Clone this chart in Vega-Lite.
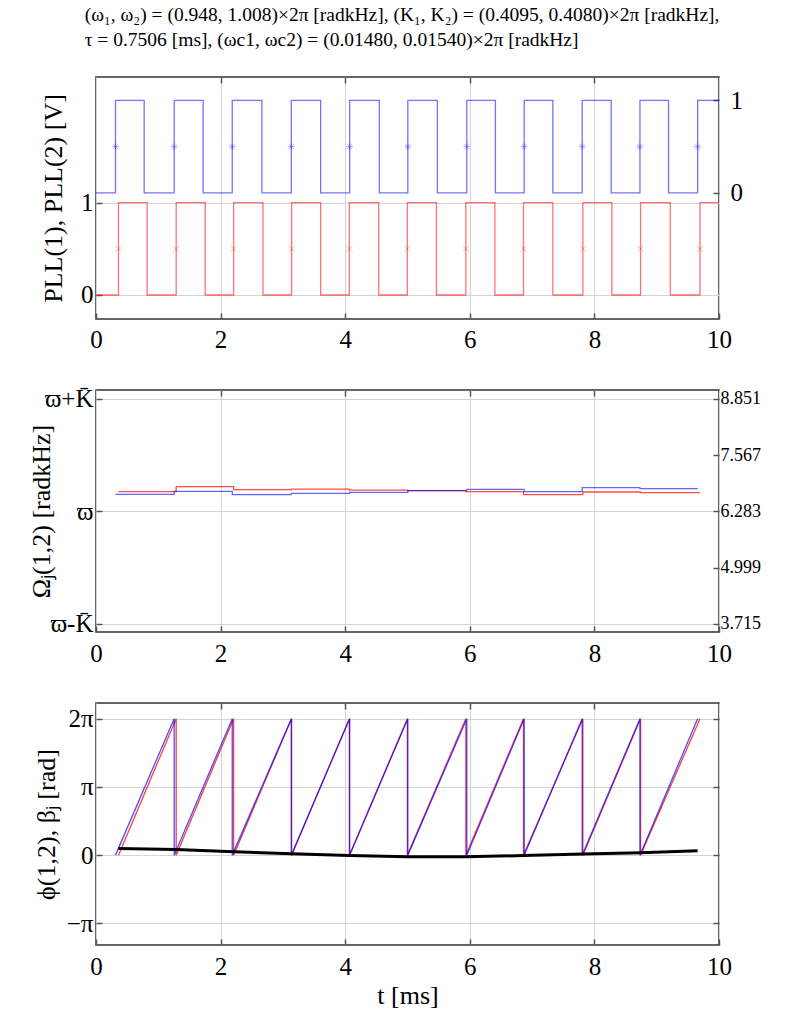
{
  "$schema": "https://vega.github.io/schema/vega-lite/v6.json",
  "background": "white",
  "padding": {"left": 27, "top": 5, "right": 5, "bottom": 5},
  "title": {
    "text": ["(ω₁, ω₂) = (0.948, 1.008)×2π [radkHz], (K₁, K₂) = (0.4095, 0.4080)×2π [radkHz],", "τ = 0.7506 [ms], (ωc1, ωc2) = (0.01480, 0.01540)×2π [radkHz]"],
    "anchor": "start", "font": "Liberation Serif, Times New Roman, serif", "fontSize": 19.5, "fontWeight": "normal", "lineHeight": 25, "offset": 25, "dx": 57, "color": "#000"
  },
  "datasets": {
    "sq": [
      {"pll": 1, "t": 0, "v": 0}, {"pll": 1, "t": 0.313, "v": 1}, {"pll": 1, "t": 0.773, "v": 0}, {"pll": 1, "t": 1.255, "v": 1}, {"pll": 1, "t": 1.72, "v": 0},
      {"pll": 1, "t": 2.187, "v": 1}, {"pll": 1, "t": 2.663, "v": 0}, {"pll": 1, "t": 3.135, "v": 1}, {"pll": 1, "t": 3.606, "v": 0}, {"pll": 1, "t": 4.072, "v": 1},
      {"pll": 1, "t": 4.548, "v": 0}, {"pll": 1, "t": 5.005, "v": 1}, {"pll": 1, "t": 5.48, "v": 0}, {"pll": 1, "t": 5.952, "v": 1}, {"pll": 1, "t": 6.411, "v": 0},
      {"pll": 1, "t": 6.873, "v": 1}, {"pll": 1, "t": 7.333, "v": 0}, {"pll": 1, "t": 7.804, "v": 1}, {"pll": 1, "t": 8.27, "v": 0}, {"pll": 1, "t": 8.731, "v": 1},
      {"pll": 1, "t": 9.19, "v": 0}, {"pll": 1, "t": 9.657, "v": 1}, {"pll": 1, "t": 10, "v": 1},
      {"pll": 2, "t": 0, "v": 0}, {"pll": 2, "t": 0.361, "v": 1}, {"pll": 2, "t": 0.821, "v": 0}, {"pll": 2, "t": 1.287, "v": 1}, {"pll": 2, "t": 1.753, "v": 0},
      {"pll": 2, "t": 2.209, "v": 1}, {"pll": 2, "t": 2.68, "v": 0}, {"pll": 2, "t": 3.14, "v": 1}, {"pll": 2, "t": 3.606, "v": 0}, {"pll": 2, "t": 4.066, "v": 1},
      {"pll": 2, "t": 4.538, "v": 0}, {"pll": 2, "t": 4.998, "v": 1}, {"pll": 2, "t": 5.464, "v": 0}, {"pll": 2, "t": 5.936, "v": 1}, {"pll": 2, "t": 6.402, "v": 0},
      {"pll": 2, "t": 6.862, "v": 1}, {"pll": 2, "t": 7.333, "v": 0}, {"pll": 2, "t": 7.815, "v": 1}, {"pll": 2, "t": 8.281, "v": 0}, {"pll": 2, "t": 8.741, "v": 1},
      {"pll": 2, "t": 9.218, "v": 0}, {"pll": 2, "t": 9.695, "v": 1}, {"pll": 2, "t": 10, "v": 1}
    ],
    "edges": [
      {"pll": 1, "t": 0.313, "v": 0.5}, {"pll": 1, "t": 1.255, "v": 0.5}, {"pll": 1, "t": 2.187, "v": 0.5}, {"pll": 1, "t": 3.135, "v": 0.5}, {"pll": 1, "t": 4.072, "v": 0.5},
      {"pll": 1, "t": 5.005, "v": 0.5}, {"pll": 1, "t": 5.952, "v": 0.5}, {"pll": 1, "t": 6.873, "v": 0.5}, {"pll": 1, "t": 7.804, "v": 0.5}, {"pll": 1, "t": 8.731, "v": 0.5},
      {"pll": 1, "t": 9.657, "v": 0.5},
      {"pll": 2, "t": 0.361, "v": 0.5}, {"pll": 2, "t": 1.287, "v": 0.5}, {"pll": 2, "t": 2.209, "v": 0.5}, {"pll": 2, "t": 3.14, "v": 0.5}, {"pll": 2, "t": 4.066, "v": 0.5},
      {"pll": 2, "t": 4.998, "v": 0.5}, {"pll": 2, "t": 5.936, "v": 0.5}, {"pll": 2, "t": 6.862, "v": 0.5}, {"pll": 2, "t": 7.815, "v": 0.5}, {"pll": 2, "t": 8.741, "v": 0.5},
      {"pll": 2, "t": 9.695, "v": 0.5}
    ],
    "freq": [
      {"pll": 1, "t": 0.313, "w": 6.671}, {"pll": 1, "t": 1.255, "w": 6.74}, {"pll": 1, "t": 2.187, "w": 6.664}, {"pll": 1, "t": 3.135, "w": 6.694},
      {"pll": 1, "t": 4.072, "w": 6.717}, {"pll": 1, "t": 5.005, "w": 6.755}, {"pll": 1, "t": 5.952, "w": 6.785}, {"pll": 1, "t": 6.873, "w": 6.733},
      {"pll": 1, "t": 7.804, "w": 6.824}, {"pll": 1, "t": 8.731, "w": 6.801}, {"pll": 1, "t": 9.657, "w": 6.801},
      {"pll": 2, "t": 0.361, "w": 6.733}, {"pll": 2, "t": 1.287, "w": 6.847}, {"pll": 2, "t": 2.209, "w": 6.778}, {"pll": 2, "t": 3.14, "w": 6.792},
      {"pll": 2, "t": 4.066, "w": 6.769}, {"pll": 2, "t": 4.998, "w": 6.755}, {"pll": 2, "t": 5.936, "w": 6.733}, {"pll": 2, "t": 6.862, "w": 6.664},
      {"pll": 2, "t": 7.815, "w": 6.724}, {"pll": 2, "t": 8.741, "w": 6.71}, {"pll": 2, "t": 9.695, "w": 6.71}
    ],
    "saw": [
      {"pll": 1, "k": 0, "t": 0.313, "phi": 0}, {"pll": 1, "k": 1, "t": 1.255, "phi": 6.2832}, {"pll": 1, "k": 2, "t": 1.255, "phi": 0},
      {"pll": 1, "k": 3, "t": 2.187, "phi": 6.2832}, {"pll": 1, "k": 4, "t": 2.187, "phi": 0}, {"pll": 1, "k": 5, "t": 3.135, "phi": 6.2832},
      {"pll": 1, "k": 6, "t": 3.135, "phi": 0}, {"pll": 1, "k": 7, "t": 4.072, "phi": 6.2832}, {"pll": 1, "k": 8, "t": 4.072, "phi": 0},
      {"pll": 1, "k": 9, "t": 5.005, "phi": 6.2832}, {"pll": 1, "k": 10, "t": 5.005, "phi": 0}, {"pll": 1, "k": 11, "t": 5.952, "phi": 6.2832},
      {"pll": 1, "k": 12, "t": 5.952, "phi": 0}, {"pll": 1, "k": 13, "t": 6.873, "phi": 6.2832}, {"pll": 1, "k": 14, "t": 6.873, "phi": 0},
      {"pll": 1, "k": 15, "t": 7.804, "phi": 6.2832}, {"pll": 1, "k": 16, "t": 7.804, "phi": 0}, {"pll": 1, "k": 17, "t": 8.731, "phi": 6.2832},
      {"pll": 1, "k": 18, "t": 8.731, "phi": 0}, {"pll": 1, "k": 19, "t": 9.657, "phi": 6.2832},
      {"pll": 2, "k": 0, "t": 0.361, "phi": 0}, {"pll": 2, "k": 1, "t": 1.287, "phi": 6.2832}, {"pll": 2, "k": 2, "t": 1.287, "phi": 0},
      {"pll": 2, "k": 3, "t": 2.209, "phi": 6.2832}, {"pll": 2, "k": 4, "t": 2.209, "phi": 0}, {"pll": 2, "k": 5, "t": 3.14, "phi": 6.2832},
      {"pll": 2, "k": 6, "t": 3.14, "phi": 0}, {"pll": 2, "k": 7, "t": 4.066, "phi": 6.2832}, {"pll": 2, "k": 8, "t": 4.066, "phi": 0},
      {"pll": 2, "k": 9, "t": 4.998, "phi": 6.2832}, {"pll": 2, "k": 10, "t": 4.998, "phi": 0}, {"pll": 2, "k": 11, "t": 5.936, "phi": 6.2832},
      {"pll": 2, "k": 12, "t": 5.936, "phi": 0}, {"pll": 2, "k": 13, "t": 6.862, "phi": 6.2832}, {"pll": 2, "k": 14, "t": 6.862, "phi": 0},
      {"pll": 2, "k": 15, "t": 7.815, "phi": 6.2832}, {"pll": 2, "k": 16, "t": 7.815, "phi": 0}, {"pll": 2, "k": 17, "t": 8.741, "phi": 6.2832},
      {"pll": 2, "k": 18, "t": 8.741, "phi": 0}, {"pll": 2, "k": 19, "t": 9.695, "phi": 6.2832}
    ],
    "beta": [
      {"t": 0.361, "b": 0.304}, {"t": 1.287, "b": 0.258}, {"t": 2.209, "b": 0.151}, {"t": 3.14, "b": 0.06}, {"t": 4.066, "b": -0.019},
      {"t": 4.998, "b": -0.07}, {"t": 5.936, "b": -0.079}, {"t": 6.862, "b": -0.019}, {"t": 7.815, "b": 0.047}, {"t": 8.741, "b": 0.107},
      {"t": 9.657, "b": 0.205}
    ]
  },
  "vconcat": [
    {
      "width": 623, "height": 242,
      "layer": [
        {
          "layer": [
            {
              "data": {"name": "sq"}, "transform": [{"filter": "datum.pll == 2"}],
              "mark": {"type": "line", "interpolate": "step-after", "color": "#ff0000", "opacity": 0.55, "strokeWidth": 1.3},
              "encoding": {
                "x": {"field": "t", "type": "quantitative", "scale": {"domain": [0, 10], "nice": false},
                      "axis": {"values": [0, 2, 4, 6, 8, 10], "format": "d", "title": null, "labelFlush": false, "labelPadding": 14}},
                "y": {"field": "v", "type": "quantitative", "scale": {"domain": [-0.26, 2.36], "nice": false, "zero": false},
                      "axis": {"orient": "left", "values": [0, 1], "format": "d", "title": "PLL(1), PLL(2) [V]", "titlePadding": 14, "labelPadding": 9}}
              }
            },
            {
              "data": {"name": "edges"}, "transform": [{"filter": "datum.pll == 2"}],
              "mark": {"type": "point", "shape": "M-1,-1L1,1M-1,1L1,-1", "size": 36, "filled": false, "color": "#ff0000", "opacity": 0.3, "strokeWidth": 1},
              "encoding": {"x": {"field": "t", "type": "quantitative"}, "y": {"field": "v", "type": "quantitative"}}
            }
          ]
        },
        {
          "layer": [
            {
              "data": {"name": "sq"}, "transform": [{"filter": "datum.pll == 1"}],
              "mark": {"type": "line", "interpolate": "step-after", "color": "#0000ff", "opacity": 0.55, "strokeWidth": 1.3},
              "encoding": {
                "x": {"field": "t", "type": "quantitative",
                      "axis": {"orient": "top", "values": [2, 4, 6, 8], "labels": false, "grid": false, "title": null}},
                "y": {"field": "v", "type": "quantitative", "scale": {"domain": [-1.365, 1.253], "nice": false, "zero": false},
                      "axis": {"orient": "right", "values": [0, 1], "format": "d", "title": null, "grid": false, "labelPadding": 17}}
              }
            },
            {
              "data": {"name": "edges"}, "transform": [{"filter": "datum.pll == 1"}],
              "mark": {"type": "point", "shape": "M-1,0L1,0M0,-1L0,1M-0.7,-0.7L0.7,0.7M-0.7,0.7L0.7,-0.7", "size": 49, "filled": false, "color": "#0000ff", "opacity": 0.3, "strokeWidth": 1},
              "encoding": {"x": {"field": "t", "type": "quantitative"}, "y": {"field": "v", "type": "quantitative"}}
            }
          ]
        }
      ],
      "resolve": {"scale": {"y": "independent"}, "axis": {"x": "independent"}}
    },
    {
      "width": 623, "height": 242,
      "data": {"name": "freq"},
      "layer": [
        {
          "transform": [{"filter": "datum.pll == 2"}],
          "mark": {"type": "line", "interpolate": "step-after", "color": "#ff0000", "opacity": 0.7, "strokeWidth": 1.3},
          "encoding": {
            "x": {"field": "t", "type": "quantitative", "scale": {"domain": [0, 10], "nice": false},
                  "axis": {"values": [0, 2, 4, 6, 8, 10], "format": "d", "title": null, "labelFlush": false, "labelPadding": 15}},
            "y": {"field": "w", "type": "quantitative", "scale": {"domain": [3.532, 9.05], "nice": false, "zero": false},
                  "axis": {"orient": "left", "values": [3.715, 6.283, 8.851], "labelExpr": "datum.value > 8 ? 'ϖ+K̄' : datum.value > 6 ? 'ϖ' : 'ϖ-K̄'",
                           "title": "Ωⱼ(1,2) [radkHz]", "titlePadding": -10, "labelPadding": 9}}
          }
        },
        {
          "transform": [{"filter": "datum.pll == 1"}],
          "mark": {"type": "line", "interpolate": "step-after", "color": "#0000ff", "opacity": 0.6, "strokeWidth": 1.3},
          "encoding": {
            "x": {"field": "t", "type": "quantitative",
                  "axis": {"orient": "top", "values": [2, 4, 6, 8], "labels": false, "grid": false, "title": null}},
            "y": {"field": "w", "type": "quantitative",
                  "axis": {"orient": "right", "values": [3.715, 4.999, 6.283, 7.567, 8.851], "format": ".3f", "title": null, "grid": false, "labelFontSize": 18, "labelPadding": 7}}
          }
        }
      ],
      "resolve": {"axis": {"y": "independent", "x": "independent"}}
    },
    {
      "width": 623, "height": 242,
      "layer": [
        {
          "data": {"name": "saw"}, "transform": [{"filter": "datum.pll == 2"}],
          "mark": {"type": "line", "color": "#ff0000", "opacity": 0.75, "strokeWidth": 1.3},
          "encoding": {
            "x": {"field": "t", "type": "quantitative", "scale": {"domain": [0, 10], "nice": false},
                  "axis": {"values": [0, 2, 4, 6, 8, 10], "format": "d", "title": "t [ms]", "labelFlush": false, "labelPadding": 15, "titlePadding": 3}},
            "y": {"field": "phi", "type": "quantitative", "scale": {"domain": [-4.137, 7.003], "nice": false, "zero": false},
                  "axis": {"orient": "left", "values": [-3.14159, 0, 3.14159, 6.28319],
                           "labelExpr": "datum.value > 6 ? '2π' : datum.value > 3 ? 'π' : datum.value < -3 ? '−π' : '0'",
                           "title": "ϕ(1,2),  βⱼ [rad]", "titlePadding": 7, "labelPadding": 9}},
            "order": {"field": "k", "type": "quantitative"}
          }
        },
        {
          "data": {"name": "saw"}, "transform": [{"filter": "datum.pll == 1"}],
          "mark": {"type": "line", "color": "#0000ff", "opacity": 0.7, "strokeWidth": 1.3},
          "encoding": {
            "x": {"field": "t", "type": "quantitative",
                  "axis": {"orient": "top", "values": [2, 4, 6, 8], "labels": false, "grid": false, "title": null}},
            "y": {"field": "phi", "type": "quantitative",
                  "axis": {"orient": "right", "values": [-3.14159, 0, 3.14159, 6.28319], "labels": false, "grid": false, "title": null}},
            "order": {"field": "k", "type": "quantitative"}
          }
        },
        {
          "data": {"name": "beta"},
          "mark": {"type": "line", "color": "#000000", "strokeWidth": 3},
          "encoding": {
            "x": {"field": "t", "type": "quantitative", "axis": null},
            "y": {"field": "b", "type": "quantitative", "axis": null}
          }
        }
      ],
      "resolve": {"axis": {"y": "independent", "x": "independent"}}
    }
  ],
  "spacing": 71,
  "bounds": "flush",
  "config": {
    "font": "Liberation Serif, Times New Roman, serif",
    "view": {"stroke": "#333333", "strokeWidth": 1.5},
    "axis": {
      "labelFont": "Liberation Serif, Times New Roman, serif", "titleFont": "Liberation Serif, Times New Roman, serif", "labelFontSize": 25, "titleFontSize": 26,
      "titleFontWeight": "normal", "labelColor": "#000000", "titleColor": "#000000", "domain": false,
      "gridColor": "#d4d4d4", "gridWidth": 1, "gridOpacity": 1, "labelOverlap": false,
      "ticks": true, "tickSize": -6, "tickColor": "#555555", "tickWidth": 1.5
    }
  }
}
